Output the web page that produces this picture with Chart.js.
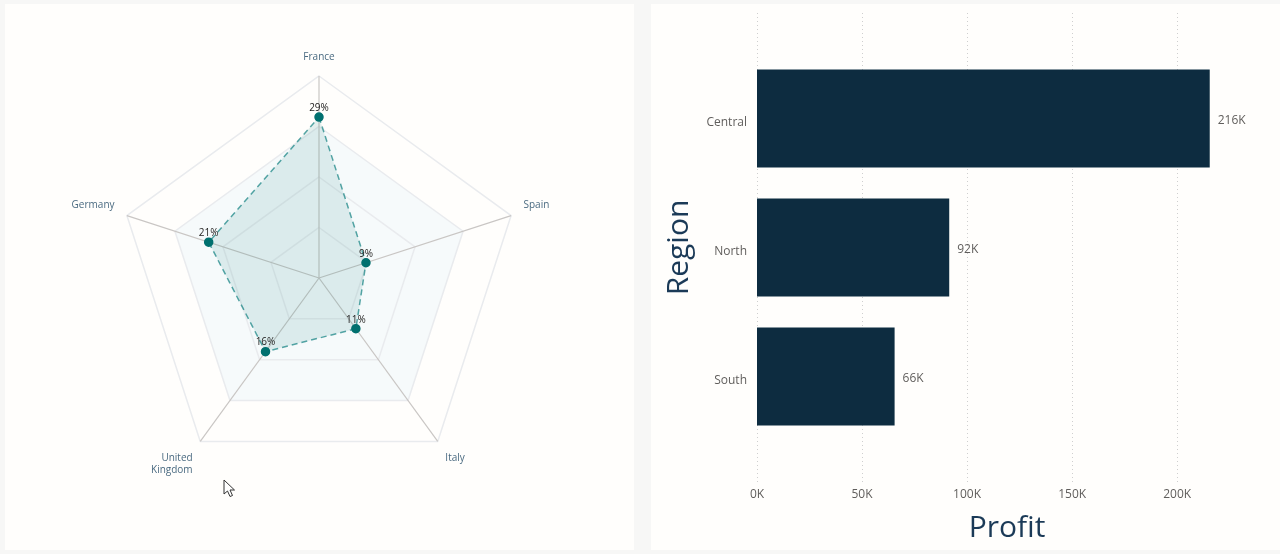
<!DOCTYPE html>
<html>
<head>
<meta charset="utf-8">
<title>Profit by country and region</title>
<script src="https://cdn.jsdelivr.net/npm/chart.js@4"></script>
<style>
    html, body { margin: 0; padding: 0; background: #f7f7f6; }
    body { width: 1280px; height: 554px; position: relative; overflow: hidden; }
    .panel { position: absolute; top: 4px; width: 629px; height: 546px; background: #fffefc; }
    #panelRadar { left: 5px; }
    #panelBarras { left: 651px; }
    #cursor { position: absolute; left: 223px; top: 479px; }
</style>
</head>
<body>
<div class="panel" id="panelRadar"><canvas id="radarPaises"></canvas></div>
<div class="panel" id="panelBarras"><canvas id="barrasRegion"></canvas></div>
<svg id="cursor" width="14" height="20" viewBox="0 0 14 20">
    <path d="M1 1 L1 15 L4.5 12 L7 17.5 L9.5 16.5 L7 11 L11.5 11 Z" fill="#fff" stroke="#333" stroke-width="1"/>
</svg>
<script>
// --- DATOS ---
const paises = ['France', 'Spain', 'Italy', ['United', 'Kingdom'], 'Germany'];
const porcentajes = [29, 8.9, 11.3, 16.4, 20.9];

const regiones = ['Central', 'North', 'South'];
const beneficios = [215500, 91500, 65500];
const ticksBeneficio = [0, 50000, 100000, 150000, 200000];

const fuente = '"Open Sans", "Noto Sans", sans-serif';

// Bandas de fondo del radar, entre anillos (se pinta antes que la rejilla)
const bandasRadar = {
    id: 'bandasRadar',
    beforeDraw(chart) {
        const { ctx, scales: { r } } = chart;
        ctx.save();
        ctx.fillStyle = '#f6fafb';
        ctx.beginPath();
        paises.forEach((_, i) => {
            const p = r.getPointPositionForValue(i, 27.3);
            if (i === 0) ctx.moveTo(p.x, p.y); else ctx.lineTo(p.x, p.y);
        });
        ctx.closePath();
        ctx.fill();
        ctx.restore();
    }
};

// Etiquetas de porcentaje encima de cada punto
const etiquetasRadar = {
    id: 'etiquetasRadar',
    afterDatasetsDraw(chart) {
        const { ctx } = chart;
        ctx.save();
        ctx.font = '10px ' + fuente;
        ctx.fillStyle = '#252423';
        ctx.textAlign = 'center';
        ctx.textBaseline = 'bottom';
        chart.getDatasetMeta(0).data.forEach((punto, i) => {
            ctx.fillText(Math.round(porcentajes[i]) + '%', punto.x, punto.y - 4);
        });
        ctx.restore();
    }
};

// Rejilla punteada, llega más allá del área de las barras
const rejillaBarras = {
    id: 'rejillaBarras',
    beforeDatasetsDraw(chart) {
        const { ctx, scales: { x } } = chart;
        ctx.save();
        ctx.strokeStyle = '#cfcfcf';
        ctx.lineWidth = 1;
        ctx.setLineDash([1, 3]);
        ticksBeneficio.forEach(v => {
            const px = Math.round(x.getPixelForValue(v)) + 0.5;
            ctx.beginPath();
            ctx.moveTo(px, 9);
            ctx.lineTo(px, 479);
            ctx.stroke();
        });
        ctx.restore();
    }
};

// Etiquetas de valor a la derecha de cada barra
const etiquetasBarras = {
    id: 'etiquetasBarras',
    afterDatasetsDraw(chart) {
        const { ctx } = chart;
        ctx.save();
        ctx.font = '12px ' + fuente;
        ctx.fillStyle = '#605e5c';
        ctx.textAlign = 'left';
        ctx.textBaseline = 'middle';
        chart.getDatasetMeta(0).data.forEach((barra, i) => {
            ctx.fillText(Math.round(beneficios[i] / 1000) + 'K', barra.x + 8, barra.y + 2);
        });
        ctx.restore();
    }
};

new Chart(document.getElementById('radarPaises'), {
    type: 'radar',
    data: {
        labels: paises,
        datasets: [{
            data: porcentajes,
            fill: true,
            backgroundColor: 'rgba(0, 120, 115, 0.11)',
            borderColor: 'rgba(0, 120, 120, 0.65)',
            borderWidth: 1.5,
            borderDash: [6, 4],
            pointBackgroundColor: '#00706f',
            pointBorderColor: '#00706f',
            pointRadius: 4
        }]
    },
    options: {
        responsive: true,
        maintainAspectRatio: false,
        animation: false,
        layout: { padding: { top: 35, bottom: 57 } },
        plugins: { legend: { display: false }, tooltip: { enabled: false } },
        scales: {
            r: {
                min: 0,
                max: 36.4,
                ticks: { display: false, stepSize: 9.1 },
                grid: { color: '#e9ebee', lineWidth: 1.5 },
                angleLines: { color: '#c9c6c4', lineWidth: 1.2 },
                pointLabels: { color: '#4a6a80', font: { size: 10, family: fuente }, padding: 13 }
            }
        }
    },
    plugins: [bandasRadar, etiquetasRadar]
});

new Chart(document.getElementById('barrasRegion'), {
    type: 'bar',
    data: {
        labels: regiones,
        datasets: [{
            data: beneficios,
            backgroundColor: '#0d2c40',
            categoryPercentage: 0.76,
            barPercentage: 1
        }]
    },
    options: {
        indexAxis: 'y',
        responsive: true,
        maintainAspectRatio: false,
        animation: false,
        layout: { padding: { top: 50, right: 23, bottom: 4 } },
        plugins: { legend: { display: false }, tooltip: { enabled: false } },
        scales: {
            x: {
                min: 0,
                max: 238000,
                afterBuildTicks: scale => { scale.ticks = ticksBeneficio.map(value => ({ value })); },
                afterFit: scale => { scale.height = 105; },
                grid: { display: false },
                border: { display: false },
                ticks: {
                    color: '#605e5c',
                    font: { size: 12, family: fuente },
                    padding: 38,
                    maxRotation: 0,
                    callback: v => (v / 1000) + 'K'
                },
                title: {
                    display: true,
                    text: 'Profit',
                    color: '#1b3a57',
                    font: { size: 30, family: fuente },
                    padding: { top: 2, bottom: 0 }
                }
            },
            y: {
                grid: { display: false },
                border: { display: false },
                afterFit: scale => { scale.width = 106; },
                ticks: { color: '#605e5c', font: { size: 12, family: fuente }, padding: 2, labelOffset: 4 },
                title: {
                    display: true,
                    text: 'Region',
                    color: '#1b3a57',
                    font: { size: 30, family: fuente },
                    padding: { top: 10, bottom: 0 }
                }
            }
        }
    },
    plugins: [rejillaBarras, etiquetasBarras]
});
</script>
</body>
</html>
